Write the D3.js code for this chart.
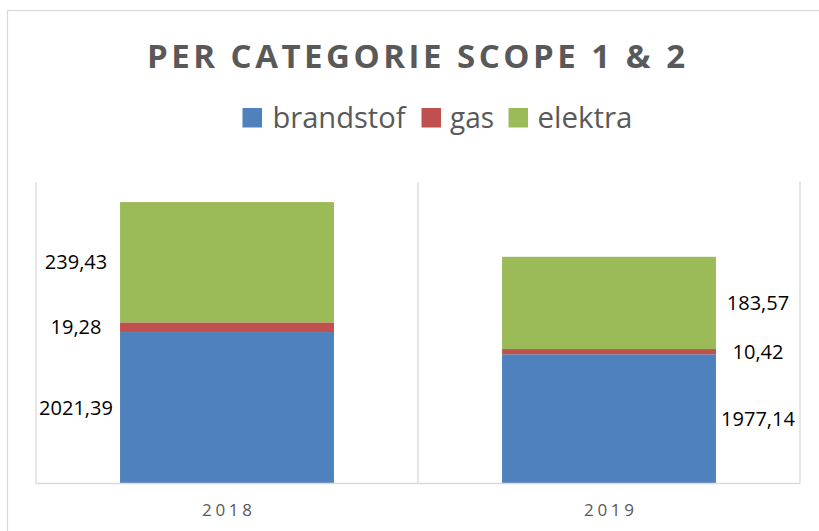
<!DOCTYPE html>
<html>
<head>
<meta charset="utf-8">
<script src="https://cdn.jsdelivr.net/npm/d3@7"></script>
<style>
  html, body { margin: 0; padding: 0; background: #fff; }
  svg { display: block; }
</style>
</head>
<body>
<svg id="chart" width="819" height="531"></svg>
<script>
const categories = ["2018", "2019"];
const seriesNames = ["brandstof", "gas", "elektra"];
const brandstof = [2021.39, 1977.14];
const gas = [19.28, 10.42];
const elektra = [239.43, 183.57];
const valueLabels = {
  brandstof: ["2021,39", "1977,14"],
  gas: ["19,28", "10,42"],
  elektra: ["239,43", "183,57"]
};
const titleText = "PER CATEGORIE SCOPE 1 & 2";

const colors = { brandstof: "#4F81BD", gas: "#C0504D", elektra: "#9BBB59" };
const textGrey = "#595959";
const lineGrey = "#D9D9D9";

const svg = d3.select("#chart");

// outer chart border (extends beyond canvas on right/bottom)
svg.append("rect")
  .attr("x", 7.5).attr("y", 10.5)
  .attr("width", 900).attr("height", 700)
  .attr("fill", "#fff")
  .attr("stroke", lineGrey).attr("stroke-width", 1.2);

const plot = { left: 36, right: 800, top: 182, bottom: 483.5 };

const x = d3.scaleBand()
  .domain(categories)
  .range([plot.left, plot.right])
  .paddingInner(0.44)
  .paddingOuter(0.22);

const y = d3.scaleLinear()
  .domain([1720, 2320])
  .range([plot.bottom, plot.top])
  .clamp(true);

// title
svg.append("text")
  .attr("x", 147).attr("y", 67.5)
  .attr("font-family", "'Open Sans', sans-serif")
  .attr("font-weight", "bold")
  .attr("font-size", 33)
  .attr("fill", textGrey)
  .attr("textLength", 538)
  .attr("lengthAdjust", "spacing")
  .text(titleText);

// legend
const legendItems = [
  { name: "brandstof", sx: 242.5, tx: 272.5, tw: 133 },
  { name: "gas", sx: 421.5, tx: 450, tw: 44 },
  { name: "elektra", sx: 508.5, tx: 537.5, tw: 95 }
];
const lg = svg.append("g");
legendItems.forEach(it => {
  lg.append("rect")
    .attr("x", it.sx).attr("y", 108)
    .attr("width", 19.5).attr("height", 19.5)
    .attr("fill", colors[it.name]);
  lg.append("text")
    .attr("x", it.tx).attr("y", 127.5)
    .attr("font-family", "'Open Sans', sans-serif")
    .attr("font-size", 29)
    .attr("fill", textGrey)
    .attr("textLength", it.tw)
    .attr("lengthAdjust", "spacingAndGlyphs")
    .text(it.name);
});

// vertical category grid lines
const gridX = [plot.left, (x("2018") + x.bandwidth() + x("2019")) / 2, plot.right];
svg.selectAll("line.grid").data(gridX).enter().append("line")
  .attr("class", "grid")
  .attr("x1", d => d).attr("x2", d => d)
  .attr("y1", plot.top).attr("y2", plot.bottom)
  .attr("stroke", lineGrey).attr("stroke-width", 1.3);

// stacked bars
const table = categories.map((c, i) => ({
  cat: c, brandstof: brandstof[i], gas: gas[i], elektra: elektra[i]
}));
const stacked = d3.stack().keys(seriesNames)(table);

stacked.forEach(layer => {
  svg.append("g").selectAll("rect")
    .data(layer).enter().append("rect")
    .attr("x", d => x(d.data.cat))
    .attr("width", x.bandwidth())
    .attr("y", d => y(d[1]))
    .attr("height", d => y(d[0]) - y(d[1]))
    .attr("fill", colors[layer.key]);
});

// baseline axis
svg.append("line")
  .attr("x1", plot.left).attr("x2", plot.right)
  .attr("y1", plot.bottom).attr("y2", plot.bottom)
  .attr("stroke", lineGrey).attr("stroke-width", 1.5);

// category labels
svg.selectAll("text.cat").data(categories).enter().append("text")
  .attr("class", "cat")
  .attr("x", d => x(d) + x.bandwidth() / 2 - 25)
  .attr("y", 515.5)
  .attr("font-family", "'Open Sans', sans-serif")
  .attr("font-size", 17)
  .attr("fill", textGrey)
  .attr("textLength", 50)
  .attr("lengthAdjust", "spacing")
  .text(d => d);

// data labels
const labelSide = ["left", "right"];
stacked.forEach(layer => {
  svg.append("g").selectAll("text")
    .data(layer).enter().append("text")
    .attr("x", (d, i) => {
      const bx = x(d.data.cat);
      return labelSide[i] === "left"
        ? (plot.left + bx) / 2 - 2
        : (bx + x.bandwidth() + plot.right) / 2;
    })
    .attr("y", d => (y(d[0]) + y(d[1])) / 2 + 7)
    .attr("text-anchor", "middle")
    .attr("font-family", "'Open Sans', sans-serif")
    .attr("font-size", 20)
    .attr("fill", "#000")
    .text((d, i) => valueLabels[layer.key][i]);
});
</script>
</body>
</html>
